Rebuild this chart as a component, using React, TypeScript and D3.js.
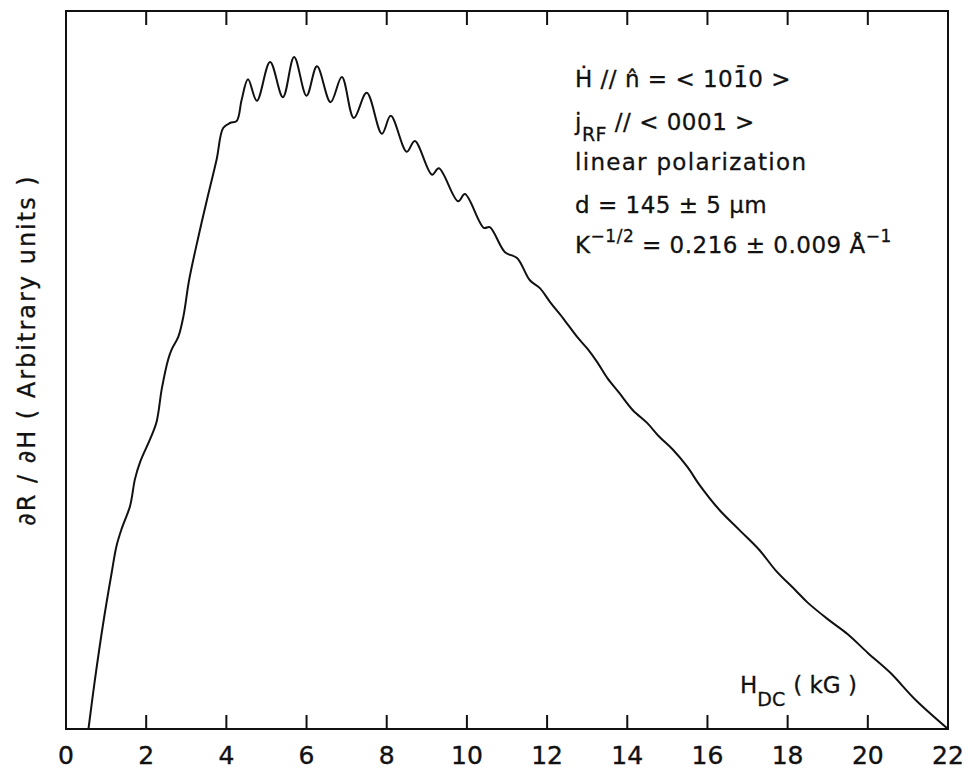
import React from "react";
import * as d3 from "d3";

// field H_DC (kG) and dR/dH (arbitrary units, 0..100)
const fieldKG = [
  0.56, 0.72, 0.93, 1.14, 1.26, 1.39, 1.6, 1.72, 1.85, 2.1, 2.26, 2.39, 2.55, 2.64, 2.8, 2.93, 3.07,
  3.3, 3.55, 3.76, 3.92,
  4.09, 4.26, 4.38, 4.54, 4.76, 5.09, 5.41, 5.69, 6.0, 6.26, 6.6, 6.88, 7.18, 7.5, 7.88, 8.1, 8.5, 8.7,
  9.13, 9.3, 9.78, 9.95, 10.42, 10.57, 10.95, 11.25, 11.57, 11.82, 12.07, 12.4, 12.75, 13.0, 13.25,
  13.5, 13.8, 14.14, 14.5, 14.8, 15.14, 15.5, 15.8, 16.3, 16.8, 17.3, 17.7, 18.2, 18.5, 19.0, 19.5,
  20.0, 20.55, 21.2, 22.0,
];
const signal = [
  0, 6.8, 14.8, 21.8, 25.5, 27.9, 31.1, 34.8, 37.2, 40.4, 42.8, 47.4, 51.5, 52.9, 54.6, 57.5, 62.5,
  68.5, 74.5, 79.4, 83.7,
  84.4, 84.7, 87.6, 90.5, 87.5, 92.9, 88.0, 93.6, 88.2, 92.3, 87.3, 90.8, 85.1, 88.6, 82.9, 85.4, 80.4, 81.9,
  77.2, 78.1, 73.5, 74.5, 69.8, 69.9, 66.4, 65.6, 62.5, 61.4, 59.5, 57.2, 54.6, 53.0, 51.1,
  48.9, 46.8, 44.4, 42.6, 40.7, 38.9, 36.5, 34.0, 30.5, 27.7, 24.9, 22.1, 19.3, 17.6, 15.3, 13.2,
  10.6, 7.9, 4.0, 0,
];
const xTickLabels = [0, 2, 4, 6, 8, 10, 12, 14, 16, 18, 20, 22];

export default function App() {
  const W = 972, H = 769;
  const left = 66, right = 948, top = 11, bottom = 729;
  const font = "'DejaVu Sans', sans-serif";

  const x = d3.scaleLinear().domain([0, 22]).range([left, right]);
  const y = d3.scaleLinear().domain([0, 100]).range([bottom, top]);

  const pts: [number, number][] = fieldKG.map((h, i) => [h, signal[i]]);
  const line = d3.line<[number, number]>()
    .x(d => x(d[0]))
    .y(d => y(d[1]))
    .curve(d3.curveCatmullRom.alpha(0.5));

  const inner = xTickLabels.filter(t => t > 0 && t < 22);
  const tickLen = 14;
  const annX = 575;

  return (
    <svg width={W} height={H} style={{ position: "absolute", left: 0, top: 0, background: "#fff" }}
      fontFamily={font}>
      <rect x={left} y={top} width={right - left} height={bottom - top}
        fill="none" stroke="#111" strokeWidth={2} />
      {inner.map(t => (
        <g key={t} stroke="#111" strokeWidth={2}>
          <line x1={x(t)} x2={x(t)} y1={bottom} y2={bottom - tickLen} />
          <line x1={x(t)} x2={x(t)} y1={top} y2={top + tickLen} />
        </g>
      ))}
      {xTickLabels.map(t => (
        <text key={t} x={x(t)} y={764} textAnchor="middle" fontSize={25} fill="#111"
          stroke="#111" strokeWidth={0.4}>{t}</text>
      ))}

      <path d={line(pts) ?? ""} fill="none" stroke="#111" strokeWidth={2} strokeLinejoin="round" />

      {/* axis titles */}
      <text transform={`translate(35,350) rotate(-90)`} textAnchor="middle" fontSize={24} fill="#111"
        letterSpacing={2} stroke="#111" strokeWidth={0.3}>
        ∂R / ∂H  ( Arbitrary  units )
      </text>
      <text x={740} y={693} fontSize={23} fill="#111" stroke="#111" strokeWidth={0.3}>
        H<tspan dy={13} fontSize={19}>DC</tspan><tspan dy={-13} dx={8}>( kG )</tspan>
      </text>

      {/* annotation block */}
      <g fontSize={23} fill="#111" stroke="#111" strokeWidth={0.3} letterSpacing={0.5}>
        <text x={annX} y={87}>Ḣ // n̂ = &lt; 101̄0 &gt;</text>
        <text x={annX} y={130}>j<tspan dy={11} fontSize={19}>RF</tspan><tspan dy={-11}> // &lt; 0001 &gt;</tspan></text>
        <text x={annX} y={170} letterSpacing={1.3}>linear  polarization</text>
        <text x={annX} y={213}>d = 145 ± 5 µm</text>
        <text x={annX} y={253}>K<tspan dy={-11} fontSize={17}>−1/2</tspan><tspan dy={11}> = 0.216 ± 0.009 Å</tspan><tspan dy={-11} fontSize={17}>−1</tspan></text>
      </g>
    </svg>
  );
}
